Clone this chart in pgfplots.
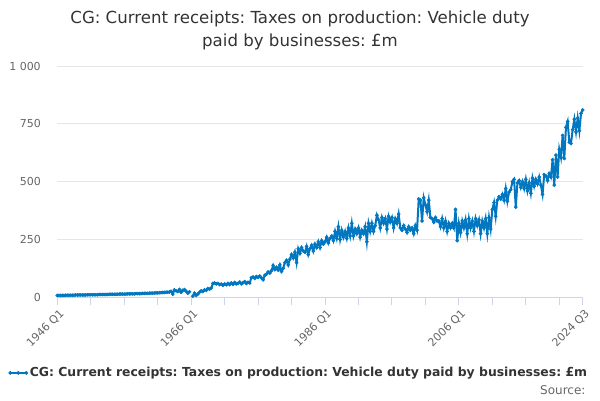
\documentclass[border=0pt]{standalone}
\usepackage{pgfplots}
\usepackage{pgfplotstable}
\pgfplotsset{compat=1.18}
\usepackage{fontspec}
\setmainfont{DejaVu Sans}
\frenchspacing
\definecolor{ons}{HTML}{0077C0}
\definecolor{tickc}{HTML}{CCD6EB}
\definecolor{gridc}{HTML}{E6E6E6}
\definecolor{labc}{HTML}{666666}
\definecolor{titc}{HTML}{333333}
\pgfplotstableread[row sep=\\]{
y q v\\
1946 1 8\\1946 2 8\\1946 3 8\\1946 4 8\\
1947 1 8\\1947 2 9\\1947 3 9\\1947 4 9\\
1948 1 9\\1948 2 9\\1948 3 9\\1948 4 10\\
1949 1 10\\1949 2 10\\1949 3 10\\1949 4 10\\
1950 1 10\\1950 2 10\\1950 3 11\\1950 4 11\\
1951 1 11\\1951 2 11\\1951 3 11\\1951 4 11\\
1952 1 11\\1952 2 12\\1952 3 12\\1952 4 12\\
1953 1 12\\1953 2 12\\1953 3 12\\1953 4 13\\
1954 1 13\\1954 2 13\\1954 3 13\\1954 4 13\\
1955 1 13\\1955 2 14\\1955 3 14\\1955 4 14\\
1956 1 14\\1956 2 14\\1956 3 15\\1956 4 15\\
1957 1 15\\1957 2 15\\1957 3 15\\1957 4 16\\
1958 1 16\\1958 2 16\\1958 3 16\\1958 4 17\\
1959 1 17\\1959 2 17\\1959 3 17\\1959 4 18\\
1960 1 18\\1960 2 18\\1960 3 19\\1960 4 19\\
1961 1 19\\1961 2 20\\1961 3 20\\1961 4 21\\
1962 1 21\\1962 2 22\\1962 3 22\\1962 4 23\\
1963 1 26\\1963 2 14\\1963 3 32\\1963 4 28\\
1964 1 25\\1964 2 34\\1964 3 22\\1964 4 30\\
1965 1 33\\1965 2 26\\1965 3 18\\1965 4 24\\
1966 1 nan\\1966 2 5\\1966 3 18\\1966 4 8\\
1967 1 14\\1967 2 22\\1967 3 28\\1967 4 25\\
1968 1 32\\1968 2 30\\1968 3 38\\1968 4 35\\
1969 1 40\\1969 2 60\\1969 3 62\\1969 4 58\\
1970 1 60\\1970 2 55\\1970 3 57\\1970 4 52\\
1971 1 58\\1971 2 54\\1971 3 60\\1971 4 55\\
1972 1 62\\1972 2 56\\1972 3 64\\1972 4 58\\
1973 1 60\\1973 2 66\\1973 3 58\\1973 4 63\\
1974 1 68\\1974 2 60\\1974 3 65\\1974 4 62\\
1975 1 85\\1975 2 88\\1975 3 82\\1975 4 90\\
1976 1 86\\1976 2 92\\1976 3 84\\1976 4 76\\
1977 1 95\\1977 2 100\\1977 3 110\\1977 4 105\\
1978 1 115\\1978 2 138\\1978 3 120\\1978 4 130\\
1979 1 118\\1979 2 140\\1979 3 112\\1979 4 125\\
1980 1 150\\1980 2 160\\1980 3 140\\1980 4 165\\
1981 1 185\\1981 2 170\\1981 3 195\\1981 4 150\\
1982 1 210\\1982 2 190\\1982 3 215\\1982 4 200\\
1983 1 195\\1983 2 220\\1983 3 185\\1983 4 210\\
1984 1 225\\1984 2 200\\1984 3 230\\1984 4 215\\
1985 1 240\\1985 2 215\\1985 3 245\\1985 4 230\\
1986 1 240\\1986 2 260\\1986 3 235\\1986 4 255\\
1987 1 265\\1987 2 245\\1987 3 285\\1987 4 255\\
1988 1 305\\1988 2 250\\1988 3 290\\1988 4 260\\
1989 1 285\\1989 2 255\\1989 3 300\\1989 4 265\\
1990 1 320\\1990 2 265\\1990 3 295\\1990 4 275\\
1991 1 300\\1991 2 260\\1991 3 290\\1991 4 275\\
1992 1 305\\1992 2 240\\1992 3 320\\1992 4 285\\
1993 1 320\\1993 2 285\\1993 3 310\\1993 4 355\\
1994 1 335\\1994 2 300\\1994 3 345\\1994 4 320\\
1995 1 340\\1995 2 295\\1995 3 350\\1995 4 325\\
1996 1 345\\1996 2 300\\1996 3 340\\1996 4 320\\
1997 1 360\\1997 2 300\\1997 3 290\\1997 4 310\\
1998 1 295\\1998 2 280\\1998 3 305\\1998 4 290\\
1999 1 300\\1999 2 275\\1999 3 310\\1999 4 290\\
2000 1 425\\2000 2 420\\2000 3 330\\2000 4 430\\
2001 1 400\\2001 2 370\\2001 3 420\\2001 4 345\\
2002 1 340\\2002 2 325\\2002 3 345\\2002 4 330\\
2003 1 330\\2003 2 305\\2003 3 340\\2003 4 300\\
2004 1 330\\2004 2 285\\2004 3 320\\2004 4 300\\
2005 1 320\\2005 2 300\\2005 3 380\\2005 4 245\\
2006 1 320\\2006 2 280\\2006 3 330\\2006 4 300\\
2007 1 335\\2007 2 275\\2007 3 340\\2007 4 300\\
2008 1 330\\2008 2 285\\2008 3 340\\2008 4 310\\
2009 1 335\\2009 2 275\\2009 3 330\\2009 4 300\\
2010 1 340\\2010 2 275\\2010 3 345\\2010 4 295\\
2011 1 380\\2011 2 410\\2011 3 350\\2011 4 420\\
2012 1 435\\2012 2 425\\2012 3 445\\2012 4 420\\
2013 1 470\\2013 2 415\\2013 3 455\\2013 4 465\\
2014 1 500\\2014 2 510\\2014 3 390\\2014 4 495\\
2015 1 505\\2015 2 475\\2015 3 500\\2015 4 470\\
2016 1 510\\2016 2 460\\2016 3 495\\2016 4 450\\
2017 1 515\\2017 2 480\\2017 3 510\\2017 4 490\\
2018 1 520\\2018 2 485\\2018 3 445\\2018 4 530\\
2019 1 525\\2019 2 505\\2019 3 535\\2019 4 520\\
2020 1 595\\2020 2 485\\2020 3 615\\2020 4 520\\
2021 1 640\\2021 2 605\\2021 3 700\\2021 4 600\\
2022 1 735\\2022 2 760\\2022 3 670\\2022 4 665\\
2023 1 725\\2023 2 770\\2023 3 715\\2023 4 775\\
2024 1 720\\2024 2 795\\2024 3 810\\
}\data
\begin{document}
\begin{tikzpicture}
\path[use as bounding box] (0,0) rectangle (600pt,400pt);
\node[font=\fontsize{16.6}{23}\selectfont, text=titc, align=center] at (300pt,369.5pt)
  {CG: Current receipts: Taxes on production: Vehicle duty\\paid by businesses: £m};
\begin{axis}[
  at={(57.3pt,102.7pt)}, anchor=south west,
  scale only axis, width=525.4pt, height=231.3pt,
  xmin=1946, xmax=2024.5, ymin=0, ymax=1000,
  axis x line*=bottom, axis y line*=left,
  x axis line style={draw=tickc, line width=1pt, -},
  y axis line style={draw=none},
  ymajorgrids, major grid style={draw=gridc, line width=0.8pt},
  ytick={0,250,500,750,1000},
  yticklabels={0,250,500,750,1 000},
  ytick style={draw=none},
  yticklabel style={font=\fontsize{11}{13}\selectfont, text=labc, xshift=-5pt},
  xtick={1946,1966,1986,2006,2024.5},
  xticklabels={1946 Q1,1966 Q1,1986 Q1,2006 Q1,2024 Q3},
  minor xtick={1951,1956,1961,1971,1976,1981,1991,1996,2001,2011,2016,2021},
  tick align=outside, major tick length=8pt, minor tick length=8pt,
  xtick style={draw=tickc, line width=1pt},
  minor x tick style={draw=tickc, line width=1pt},
  xmajorgrids=false, xminorgrids=false,
  xticklabel style={font=\fontsize{11}{13}\selectfont, text=labc, rotate=45, anchor=north east, inner sep=1pt, yshift=-2pt},
  unbounded coords=jump,
  clip=false,
  legend style={at={(-0.093,-0.327)}, anchor=west, draw=none, fill=none,
    font=\bfseries\fontsize{12.4}{14}\selectfont, text=titc, inner sep=0pt},
  legend cell align=left,
  legend image code/.code={\draw[#1] plot coordinates {(0pt,0pt) (8pt,0pt) (16pt,0pt)};},
]
\addplot[color=ons, line width=2pt, mark=*, mark size=1.6pt, mark options={solid, line width=0.5pt, fill=ons}]
  table[x expr=\thisrow{y}+(\thisrow{q}-1)/4, y=v] {\data};
\addlegendentry{CG: Current receipts: Taxes on production: Vehicle duty paid by businesses: £m}
\end{axis}
\node[anchor=east, font=\fontsize{12}{14}\selectfont, text=labc] at (589pt,10pt) {Source:};
\end{tikzpicture}
\end{document}
